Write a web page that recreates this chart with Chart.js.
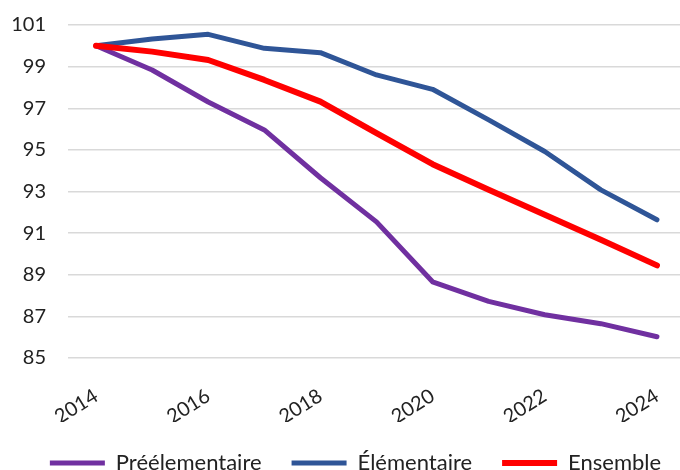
<!DOCTYPE html>
<html>
<head>
<meta charset="utf-8">
<script src="https://cdn.jsdelivr.net/npm/chart.js@4"></script>
<style>
  html, body { margin: 0; padding: 0; background: #fff; overflow: hidden; width: 680px; height: 470px; }
  #cadre { width: 685px; height: 484px; position: relative; }
</style>
</head>
<body>
<div id="cadre"><canvas id="graphique"></canvas></div>
<script>
// Données (indice base 100 en 2014)
const annees = ['2014', '2015', '2016', '2017', '2018', '2019', '2020', '2021', '2022', '2023', '2024'];
const preelementaire = [100, 98.84, 97.3, 95.96, 93.66, 91.54, 88.66, 87.72, 87.08, 86.65, 86.02];
const elementaire = [100, 100.33, 100.55, 99.88, 99.67, 98.6, 97.91, 96.44, 94.92, 93.08, 91.64];
const ensemble = [100, 99.72, 99.32, 98.36, 97.32, 95.8, 94.31, 93.08, 91.88, 90.68, 89.45];
const graduationsY = [85, 87, 89, 91, 93, 95, 97, 99, 101];

const police = { family: 'Lato', size: 20 };
const couleurTexte = '#222';

function serie(nom, valeurs, couleur, epaisseur, ordre) {
    return {
        label: nom,
        data: valeurs,
        borderColor: couleur,
        backgroundColor: couleur,
        borderWidth: epaisseur,
        borderCapStyle: 'round',
        borderJoinStyle: 'round',
        pointRadius: 0,
        pointHoverRadius: 0,
        tension: 0,
        order: ordre
    };
}

// Décale la légende vers la droite comme dans l'original (centrée sur la zone de tracé)
const decalageLegende = {
    id: 'decalageLegende',
    afterLayout(chart) {
        if (chart.legend) {
            chart.legend.left += 13;
            chart.legend.right += 13;
        }
    }
};

new Chart(document.getElementById('graphique'), {
    type: 'line',
    data: {
        labels: annees,
        datasets: [
            serie('Préélementaire', preelementaire, '#7030a0', 5, 2),
            serie('Élémentaire', elementaire, '#2f5597', 5, 1),
            serie('Ensemble', ensemble, '#ff0000', 6, 0)
        ]
    },
    plugins: [decalageLegende],
    options: {
        responsive: true,
        maintainAspectRatio: false,
        animation: false,
        layout: { padding: { top: 25, right: 0, left: 0, bottom: 0 } },
        plugins: {
            tooltip: { enabled: false },
            legend: {
                position: 'bottom',
                labels: {
                    usePointStyle: true,
                    pointStyle: 'line',
                    pointStyleWidth: 55,
                    padding: 30,
                    color: couleurTexte,
                    font: { family: 'Lato', size: 22 },
                    // garder l'ordre des séries, pas l'ordre de dessin
                    sort: (a, b) => a.datasetIndex - b.datasetIndex
                }
            }
        },
        scales: {
            x: {
                offset: true,
                grid: { display: false },
                border: { display: false },
                ticks: {
                    autoSkip: false,
                    maxRotation: 32,
                    minRotation: 32,
                    padding: 18,
                    color: couleurTexte,
                    font: police,
                    callback: function (valeur, index) {
                        return index % 2 === 0 ? annees[index] : '';
                    }
                },
                afterFit: function (axe) {
                    axe.height = 64;
                    axe.paddingLeft = 0;
                    axe.paddingRight = 0;
                }
            },
            y: {
                min: 85,
                max: 101,
                afterBuildTicks: function (axe) {
                    axe.ticks = graduationsY.map(v => ({ value: v }));
                },
                grid: { color: '#d9d9d9', lineWidth: 1.5, drawTicks: false },
                border: { display: false },
                ticks: { padding: 22, color: couleurTexte, font: police },
                afterFit: function (axe) {
                    axe.width = 68;
                    axe.paddingTop = 0;
                    axe.paddingBottom = 0;
                }
            }
        }
    }
});
</script>
</body>
</html>
